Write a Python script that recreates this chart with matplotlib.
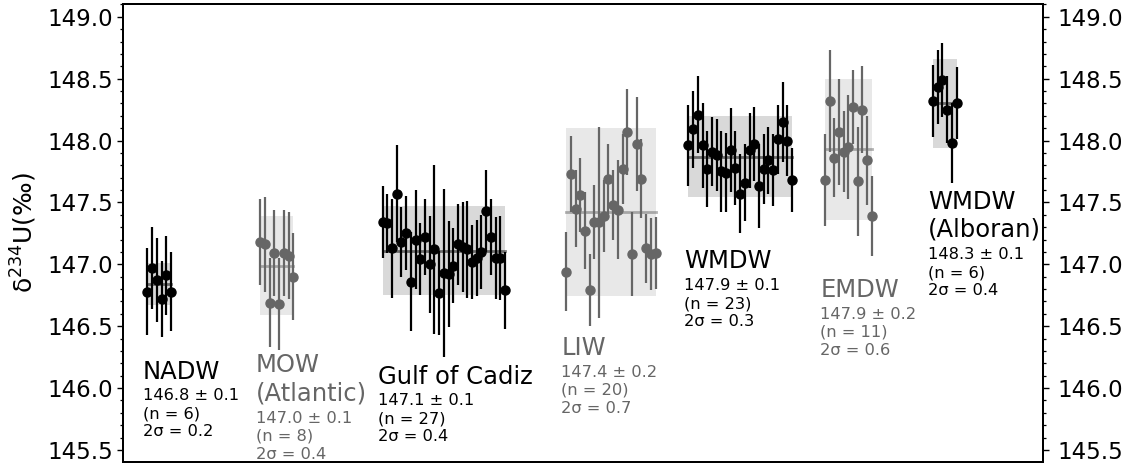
import numpy as np
import matplotlib.pyplot as plt
from matplotlib.ticker import MultipleLocator

# d234U por masa de agua (valor, incertidumbre 2sd de cada muestra)
nadw = [146.78, 146.97, 146.87, 146.72, 146.91, 146.78]
nadw_err = [0.35, 0.33, 0.34, 0.31, 0.32, 0.32]

mow = [147.18, 147.16, 146.69, 147.09, 146.68, 147.09, 147.07, 146.90]
mow_err = [0.35, 0.38, 0.36, 0.35, 0.37, 0.35, 0.35, 0.35]

cadiz = [147.34, 147.33, 147.13, 147.57, 147.18, 147.25, 146.86, 147.20, 147.04,
         147.22, 147.00, 147.12, 146.77, 146.93, 146.92, 146.99, 147.16, 147.14,
         147.12, 147.02, 147.05, 147.10, 147.43, 147.22, 147.05, 147.05, 146.79]
cadiz_err = [0.29, 0.24, 0.40, 0.39, 0.28, 0.30, 0.40, 0.40, 0.29, 0.31, 0.39,
             0.68, 0.34, 0.68, 0.43, 0.30, 0.33, 0.36, 0.39, 0.30, 0.31, 0.30,
             0.33, 0.31, 0.33, 0.34, 0.31]

liw = [146.94, 147.73, 147.45, 147.56, 147.27, 146.79, 147.34, 147.34, 147.39, 147.69,
       147.48, 147.44, 147.77, 148.07, 147.08, 147.97, 147.69, 147.13, 147.08, 147.09]
liw_err = [0.32, 0.31, 0.31, 0.30, 0.31, 0.29, 0.30, 0.77, 0.29, 0.28,
           0.28, 0.40, 0.28, 0.35, 0.34, 0.38, 0.32, 0.28, 0.29, 0.29]

wmdw = [147.96, 148.09, 148.21, 147.96, 147.77, 147.91, 147.88, 147.75, 147.74, 147.92,
        147.78, 147.57, 147.66, 147.92, 147.97, 147.63, 147.77, 147.84, 147.76, 148.01,
        148.15, 148.00, 147.68]
wmdw_err = [0.33, 0.31, 0.31, 0.34, 0.31, 0.28, 0.29, 0.33, 0.32, 0.34, 0.30, 0.32,
            0.31, 0.30, 0.30, 0.34, 0.28, 0.27, 0.29, 0.28, 0.32, 0.29, 0.26]

emdw = [147.68, 148.32, 147.86, 148.07, 147.91, 147.95, 148.27, 147.67, 148.25, 147.84, 147.39]
emdw_err = [0.37, 0.41, 0.32, 0.43, 0.33, 0.42, 0.30, 0.44, 0.35, 0.36, 0.32]

alboran = [148.32, 148.43, 148.49, 148.25, 147.98, 148.30]
alboran_err = [0.29, 0.30, 0.30, 0.27, 0.32, 0.29]

# resumen por masa de agua
names = ['NADW', 'MOW\n(Atlantic)', 'Gulf of Cadiz', 'LIW', 'WMDW', 'EMDW', 'WMDW\n(Alboran)']
means = [146.84, 146.99, 147.11, 147.42, 147.87, 147.93, 148.30]
mean_unc = [0.1, 0.1, 0.1, 0.2, 0.1, 0.2, 0.1]
two_sigma = [0.17, 0.40, 0.36, 0.68, 0.33, 0.57, 0.36]

groups = [(nadw, nadw_err), (mow, mow_err), (cadiz, cadiz_err), (liw, liw_err),
          (wmdw, wmdw_err), (emdw, emdw_err), (alboran, alboran_err)]

# posicion de la primera muestra de cada grupo (numero de muestra)
x_start = [5, 29, 55, 94, 120, 149, 172]
colors = ['black', '0.4', 'black', '0.4', 'black', '0.4', 'black']
# altura (borde superior) de cada etiqueta
label_y = [146.23, 146.28, 146.19, 146.42, 147.12, 146.89, 147.60]

fig, ax = plt.subplots(figsize=(11.26, 4.65), dpi=100)
fig.subplots_adjust(left=0.1092, right=0.926, top=0.9914, bottom=0.0071)

for i, (vals, errs) in enumerate(groups):
    x = x_start[i] + np.arange(len(vals))
    c = colors[i]
    ax.fill_between([x[0], x[-1]], means[i] - two_sigma[i], means[i] + two_sigma[i],
                    color=c, alpha=0.15, linewidth=0, zorder=1)
    ax.plot([x[0], x[-1]], [means[i], means[i]], color=c, alpha=0.5, linewidth=2, zorder=2)
    ax.errorbar(x, vals, yerr=errs, fmt='o', color=c, markersize=6.5,
                elinewidth=1.6, capsize=0, zorder=3)

    ax.text(x[0] - 1, label_y[i], names[i], color=c, fontsize=17.5,
            ha='left', va='top', linespacing=1.2)
    nlines = names[i].count('\n') + 1
    stats = f'{means[i]:.1f} ± {mean_unc[i]:.1f}\n(n = {len(vals)})\n2σ = {two_sigma[i]:.1f}'
    ax.annotate(stats, xy=(x[0] - 1, label_y[i]), xytext=(0, -20.6 * nlines),
                textcoords='offset points', color=c, fontsize=11.7,
                ha='left', va='top', linespacing=1.25)

ax.set_xlim(-0.2, 195.3)
ax.set_ylim(145.405, 149.103)
ax.set_xticks([])

# copia del eje y a la derecha
ax2 = ax.twinx()
ax2.set_ylim(ax.get_ylim())
for a, pad in ((ax, 2.5), (ax2, 6.0)):
    a.yaxis.set_major_locator(MultipleLocator(0.5))
    a.yaxis.set_minor_locator(MultipleLocator(0.1))
    a.yaxis.set_major_formatter(plt.FormatStrFormatter('%.1f'))
    a.tick_params(axis='y', which='major', length=4.5, width=1.0, labelsize=16.5, pad=pad)
    a.tick_params(axis='y', which='minor', length=2.5, width=0.9)
    for s in a.spines.values():
        s.set_linewidth(1.4)

ax.set_ylabel('δ$^{234}$U(‰)', fontsize=18, labelpad=6)

plt.savefig('out.png', dpi=100)
